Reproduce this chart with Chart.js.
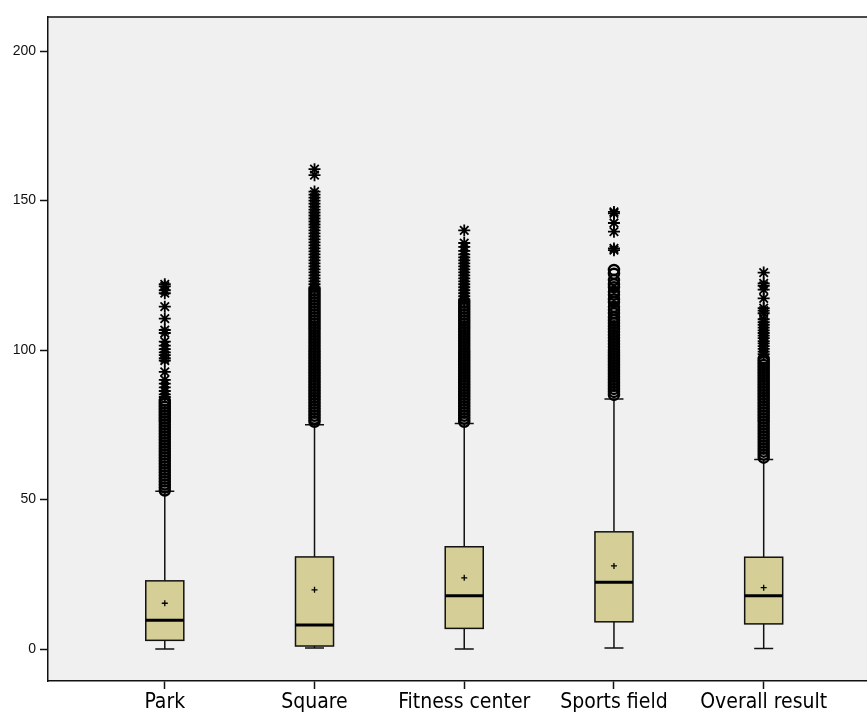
<!DOCTYPE html>
<html>
<head>
<meta charset="utf-8">
<script src="https://cdn.jsdelivr.net/npm/chart.js@4.4.0/dist/chart.umd.min.js"></script>
<style>
  html, body { margin: 0; padding: 0; background: #fff; overflow: hidden; }
  #wrap { width: 867px; height: 716px; position: relative; }
  canvas { display: block; }
</style>
</head>
<body>
<div id="wrap"><canvas id="boxChart"></canvas></div>
<script>
const categories = ['Park', 'Square', 'Fitness center', 'Sports field', 'Overall result'];
const whiskerLow  = [0, 0.3, 0, 0.3, 0.2];
const q1          = [2.9, 1.0, 6.9, 9.1, 8.4];
const median      = [9.6, 8.0, 17.8, 22.3, 17.8];
const q3          = [22.8, 30.8, 34.2, 39.2, 30.7];
const whiskerHigh = [52.8, 75.0, 75.4, 83.6, 63.4];
const means       = [15.3, 19.8, 23.8, 27.8, 20.5];
const yTicks = [0, 50, 100, 150, 200];

// circles (outliers)
const outliers = [
  [53, 54, 55, 56, 57, 58, 59, 60, 61, 62, 63, 64, 65, 66, 67, 68, 69, 70, 71, 72, 73, 74, 75, 76, 77, 78, 79, 80, 81, 82, 83],
  [76, 77, 78, 79, 80, 81, 82, 83, 84, 85, 86, 87, 88, 89, 90, 91, 92, 93, 94, 95, 96, 97, 98, 99, 100, 101, 102, 103, 104, 105,
   106, 107, 108, 109, 110, 111, 112, 113, 114, 115, 116, 117, 118, 119, 120],
  [76, 77, 78, 79, 80, 81, 82, 83, 84, 85, 86, 87, 88, 89, 90, 91, 92, 93, 94, 95, 96, 97, 98, 99, 100, 101, 102, 103, 104, 105,
   106, 107, 108, 109, 110, 111, 112, 113, 114, 115, 116],
  [85, 86, 87, 88, 89, 90, 91, 92, 93, 94, 95, 96, 97, 98, 99, 100, 101, 102, 103, 104, 105, 106, 107, 108, 109, 110,
   111, 112.3, 113.5, 114.5, 116, 117, 118.5, 119.5, 121, 122, 123.4, 125.5, 126.8],
  [64, 65, 66, 67, 68, 69, 70, 71, 72, 73, 74, 75, 76, 77, 78, 79, 80, 81, 82, 83, 84, 85, 86, 87, 88, 89, 90, 91, 92, 93,
   94, 95, 96, 97]
];
// asterisks (extremes)
const extremes = [
  [122, 121.3, 120, 119, 114.5, 110.5, 106.7, 105.7, 102.8, 101.5, 100.3, 99.2, 98.3, 97.3, 96.5, 92.7, 90, 88.8, 87.5, 86.3, 85.2, 84.3],
  [160.5, 158.5, 153, 152, 151, 150, 149, 148, 147, 146, 145, 144, 143, 142, 141, 140, 139, 138, 137, 136, 135, 134, 133,
   132, 131, 130, 129, 128, 127, 126, 125, 124, 123, 122, 121, 120.5],
  [140, 135.8, 134.5, 133.2, 132, 131, 130, 129, 128, 127, 126, 125, 124, 123, 122, 121, 120, 119, 118, 117, 116.5],
  [146.2, 145.7, 142.5, 139.6, 134, 133.4],
  [125.9, 122.3, 121.5, 120.2, 117.3, 114, 113.2, 112.3, 110.3, 109.3, 108.4, 107.5, 106.6, 105.7, 104.8, 104, 103, 102.2,
   101.3, 100.4, 99.5, 98.6]
];

const boxFill = '#d5cf97';
const boxWidth = 0.254;   // in category units
const capWidth = 0.127;

const toPoints = lists => lists.flatMap((vals, i) => vals.map(v => ({ x: i + 1, y: v })));

const boxPlugin = {
  id: 'boxes',
  beforeDraw(chart) {
    const { ctx, chartArea: a } = chart;
    ctx.save();
    ctx.fillStyle = '#f0f0f0';
    ctx.fillRect(a.left, a.top, a.right - a.left, a.bottom - a.top);
    ctx.restore();
  },
  beforeDatasetsDraw(chart) {
    const { ctx } = chart;
    const xs = chart.scales.x, ys = chart.scales.y;
    ctx.save();
    categories.forEach((c, i) => {
      const x = xs.getPixelForValue(i + 1);
      const bl = xs.getPixelForValue(i + 1 - boxWidth / 2), br = xs.getPixelForValue(i + 1 + boxWidth / 2);
      const cl = xs.getPixelForValue(i + 1 - capWidth / 2), cr = xs.getPixelForValue(i + 1 + capWidth / 2);
      const yLo = ys.getPixelForValue(whiskerLow[i]), yHi = ys.getPixelForValue(whiskerHigh[i]);
      const y1 = ys.getPixelForValue(q1[i]), y3 = ys.getPixelForValue(q3[i]);
      const ym = ys.getPixelForValue(median[i]);
      ctx.strokeStyle = '#111';
      ctx.lineWidth = 1.5;
      ctx.beginPath();
      ctx.moveTo(x, yHi); ctx.lineTo(x, y3);
      ctx.moveTo(x, y1); ctx.lineTo(x, yLo);
      ctx.moveTo(cl, yHi); ctx.lineTo(cr, yHi);
      ctx.moveTo(cl, yLo); ctx.lineTo(cr, yLo);
      ctx.stroke();
      ctx.fillStyle = boxFill;
      ctx.fillRect(bl, y3, br - bl, y1 - y3);
      ctx.strokeRect(bl, y3, br - bl, y1 - y3);
      ctx.lineWidth = 3;
      ctx.strokeStyle = '#000';
      ctx.beginPath();
      ctx.moveTo(bl, ym); ctx.lineTo(br, ym);
      ctx.stroke();
    });
    ctx.restore();
  },
  afterDraw(chart) {
    const { ctx, chartArea: a } = chart;
    ctx.save();
    ctx.strokeStyle = '#111';
    ctx.lineWidth = 1.5;
    ctx.beginPath();
    ctx.moveTo(a.left, a.top); ctx.lineTo(a.right, a.top);
    ctx.stroke();
    ctx.restore();
  }
};

new Chart(document.getElementById('boxChart'), {
  type: 'scatter',
  data: {
    datasets: [
      {
        label: 'Mean',
        data: means.map((v, i) => ({ x: i + 1, y: v })),
        pointStyle: 'cross',
        radius: 3,
        borderWidth: 1.3,
        borderColor: '#000'
      },
      {
        label: 'Outliers',
        data: toPoints(outliers),
        pointStyle: 'circle',
        radius: 5,
        borderWidth: 2.5,
        borderColor: '#000',
        backgroundColor: 'rgba(0,0,0,0)'
      },
      {
        label: 'Extremes',
        data: toPoints(extremes),
        pointStyle: 'star',
        radius: 6,
        borderWidth: 1.8,
        borderColor: '#000'
      }
    ]
  },
  options: {
    responsive: true,
    maintainAspectRatio: false,
    animation: false,
    layout: { autoPadding: false, padding: { top: 17, right: 0, left: 0, bottom: 0 } },
    plugins: {
      legend: { display: false },
      tooltip: { enabled: false }
    },
    scales: {
      x: {
        type: 'linear',
        min: 0.22,
        max: 5.69,
        afterBuildTicks: scale => { scale.ticks = categories.map((c, i) => ({ value: i + 1 })); },
        afterFit: scale => { scale.height = 35; scale.paddingLeft = 0; scale.paddingRight = 0; },
        ticks: {
          color: '#000',
          padding: 1,
          font: { family: "'Liberation Sans Narrow', 'DejaVu Sans Condensed', sans-serif", size: 21 },
          callback: value => categories[value - 1]
        },
        grid: { drawOnChartArea: false, drawTicks: true, tickLength: 8, tickWidth: 1.5, color: '#111' },
        border: { display: true, color: '#111', width: 1.5 }
      },
      y: {
        min: -10.7,
        max: 211.4,
        afterBuildTicks: scale => { scale.ticks = yTicks.map(v => ({ value: v })); },
        afterFit: scale => { scale.width = 48; scale.paddingTop = 0; scale.paddingBottom = 0; },
        ticks: {
          color: '#111',
          padding: 4,
          font: { family: "'Liberation Sans', Arial, sans-serif", size: 14 }
        },
        grid: { drawOnChartArea: false, drawTicks: true, tickLength: 8, tickWidth: 1.5, color: '#111' },
        border: { display: true, color: '#111', width: 1.5 }
      }
    }
  },
  plugins: [boxPlugin]
});
</script>
</body>
</html>
